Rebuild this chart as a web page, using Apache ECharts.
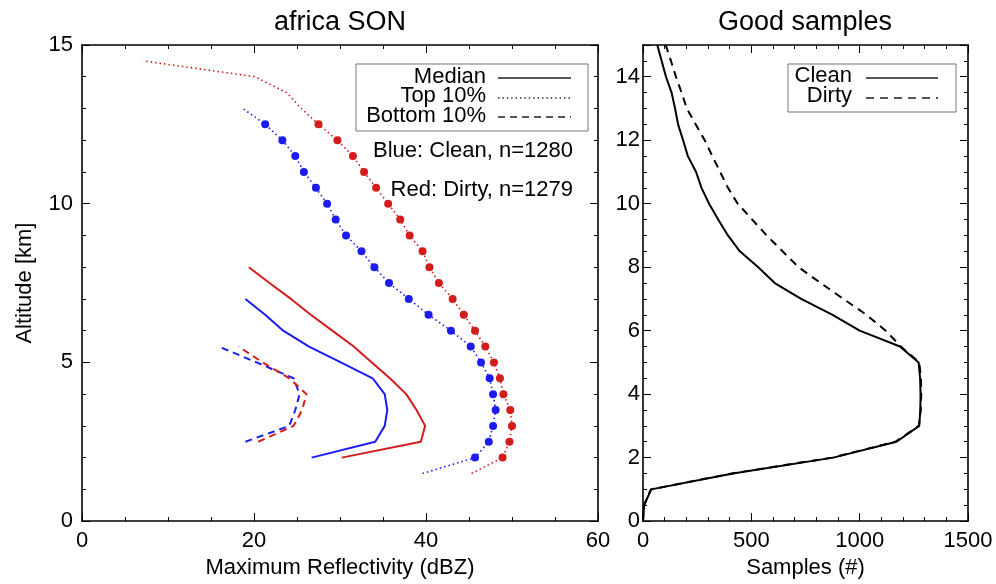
<!DOCTYPE html>
<html><head><meta charset="utf-8">
<script src="https://cdn.jsdelivr.net/npm/echarts@6/dist/echarts.min.js"></script>
<style>html,body{margin:0;padding:0;background:#fff}#c{width:996px;height:584px}</style>
</head><body><div id="c"></div>
<script>
// ---- Left panel: Maximum reflectivity (dBZ) by altitude (km) ----
const altLeft = [1.5,2.0,2.5,3.0,3.5,4.0,4.5,5.0,5.5,6.0,6.5,7.0,7.5,8.0,8.5,9.0,9.5,10.0,10.5,11.0,11.5,12.0,12.5,13.0,13.5,14.0,14.5];
const topDirty    = [45.3,48.9,49.7,50.0,49.8,49.0,48.6,47.9,46.9,45.7,44.4,43.1,41.5,40.4,39.6,38.1,37.0,35.6,34.2,32.8,31.5,29.7,27.5,25.5,23.8,20.1,7.1];
const topClean    = [39.6,45.7,47.3,47.8,48.1,47.8,47.4,46.4,45.2,42.9,40.3,38.0,35.7,34.0,32.5,30.7,29.5,28.5,27.2,25.8,24.8,23.3,21.3,18.7,null,null,null];
const medianDirty = [null,30.2,39.4,39.9,38.9,37.7,35.8,33.7,31.6,29.1,26.6,24.3,21.8,19.4,null,null,null,null,null,null,null,null,null,null,null,null,null];
const medianClean = [null,26.7,34.1,35.2,35.5,35.2,33.8,30.1,26.4,23.4,21.3,19.0,null,null,null,null,null,null,null,null,null,null,null,null,null,null,null];
const bottomDirty = [null,null,20.5,24.6,25.6,26.1,24.1,21.0,18.2,null,null,null,null,null,null,null,null,null,null,null,null,null,null,null,null,null,null];
const bottomClean = [null,null,19.0,24.1,24.8,25.3,24.6,20.3,15.9,null,null,null,null,null,null,null,null,null,null,null,null,null,null,null,null,null,null];
const markerAltRange = [2.0, 12.5];

// ---- Right panel: good samples by altitude ----
const altRight = [0,0.5,1,1.5,2,2.5,3,3.5,4,4.5,5,5.5,6,6.5,7,7.5,8,8.5,9,9.5,10,10.5,11,11.5,12,12.5,13,13.5,14,14.5,15];
const samplesClean = [0,5,38,415,878,1170,1275,1280,1281,1279,1272,1186,1000,875,730,608,532,447,392,347,305,270,245,207,185,162,148,132,106,86,66];
const samplesDirty = [0,5,36,410,872,1165,1273,1282,1284,1283,1275,1190,1120,1031,925,820,718,644,571,504,437,392,356,320,285,243,202,178,152,129,105];

// ---- Text ----
const leftTitle = 'africa SON', rightTitle = 'Good samples';
const leftXName = 'Maximum Reflectivity (dBZ)', rightXName = 'Samples (#)', yName = 'Altitude [km]';
const styleLegend = ['Median', 'Top 10%', 'Bottom 10%'];
const noteLines = ['Blue: Clean, n=1280', 'Red: Dirty, n=1279'];
const rightLegend = ['Clean', 'Dirty'];

const FONT = 'Liberation Sans, Arial, Helvetica, sans-serif';
const RED = '#d41c1c', BLUE = '#1c1cf0';

function pairs(xs, ys) {
  const out = [];
  for (let i = 0; i < xs.length; i++) if (xs[i] != null) out.push([xs[i], ys[i]]);
  return out;
}
function markerPairs(xs, ys) {
  return pairs(xs, ys).filter(p => p[1] >= markerAltRange[0] && p[1] <= markerAltRange[1]);
}

const G = [{left: 82, top: 45, width: 516, height: 480}, {left: 643, top: 45, width: 325, height: 479}];
const plainNum = v => String(v);

function xAx(grid, pos, min, max, interval, minorSplit, name, showLabel) {
  return {
    type: 'value', gridIndex: grid, position: pos, min, max, interval,
    name: showLabel ? name : '', nameLocation: 'middle', nameGap: 33,
    nameTextStyle: {fontFamily: FONT, fontSize: 22, color: '#000'},
    axisLine: {show: true, onZero: false, lineStyle: {color: '#000', width: 1.6}},
    axisTick: {show: true, inside: true, length: 8, lineStyle: {color: '#000', width: 1}},
    minorTick: {show: true, splitNumber: minorSplit, length: 4, lineStyle: {color: '#000', width: 1}},
    splitLine: {show: false},
    axisLabel: {show: showLabel, fontFamily: FONT, fontSize: 22, color: '#000', margin: 9, formatter: plainNum}
  };
}
function yAx(grid, pos, interval, minorSplit, name, showLabel, margin, showMax) {
  return {
    type: 'value', gridIndex: grid, position: pos, min: 0, max: 15, interval,
    name: (showLabel && name) ? name : '', nameLocation: 'middle', nameGap: 46, nameRotate: 90,
    nameTextStyle: {fontFamily: FONT, fontSize: 22, color: '#000'},
    axisLine: {show: true, onZero: false, lineStyle: {color: '#000', width: 1.6}},
    axisTick: {show: true, inside: true, length: 8, lineStyle: {color: '#000', width: 1}},
    minorTick: {show: true, splitNumber: minorSplit, length: 4, lineStyle: {color: '#000', width: 1}},
    splitLine: {show: false},
    axisLabel: {show: showLabel, fontFamily: FONT, fontSize: 22, color: '#000', margin, showMaxLabel: showMax, formatter: plainNum}
  };
}

function lineSeries(data, color, type, width, xi, yi) {
  return {type: 'line', xAxisIndex: xi, yAxisIndex: yi, data, showSymbol: false, symbol: 'none',
    lineStyle: {color, width, type, cap: 'butt'}, silent: true, animation: false, z: 3};
}
function markerSeries(data, color) {
  return {type: 'scatter', xAxisIndex: 0, yAxisIndex: 0, data, symbol: 'circle', symbolSize: 8,
    itemStyle: {color, opacity: 1}, silent: true, animation: false, z: 4};
}

const DOT = [1.5, 3], DASH_L = [7, 5], DASH_R = [8, 6];

const series = [
  lineSeries(pairs(topClean, altLeft), BLUE, DOT, 1.6, 0, 0),
  markerSeries(markerPairs(topClean, altLeft), BLUE),
  lineSeries(pairs(topDirty, altLeft), RED, DOT, 1.6, 0, 0),
  markerSeries(markerPairs(topDirty, altLeft), RED),
  lineSeries(pairs(medianClean, altLeft), BLUE, 'solid', 2, 0, 0),
  lineSeries(pairs(medianDirty, altLeft), RED, 'solid', 2, 0, 0),
  lineSeries(pairs(bottomClean, altLeft), BLUE, DASH_L, 2, 0, 0),
  lineSeries(pairs(bottomDirty, altLeft), RED, DASH_L, 2, 0, 0),
  lineSeries(pairs(samplesClean, altRight), '#000', 'solid', 2, 1, 2),
  lineSeries(pairs(samplesDirty, altRight), '#000', DASH_R, 2, 1, 2)
];

const txt = (x, y, text, align, size) => ({type: 'text', x, y, silent: true,
  style: {text, fontFamily: FONT, fontSize: size || 22, fill: '#000', textAlign: align, textVerticalAlign: 'middle'}});
const seg = (x1, x2, y, dash, w) => {
  const st = {stroke: '#222', lineWidth: w || 1.6};
  if (dash) st.lineDash = dash;
  return {type: 'line', silent: true, shape: {x1, y1: y, x2, y2: y}, style: st};
};

const graphic = [
  txt(340, 23, leftTitle, 'center', 27),
  txt(805, 23, rightTitle, 'center', 27),
  {type: 'rect', silent: true, shape: {x: 356, y: 64, width: 232, height: 67}, style: {fill: '#fff', stroke: '#777', lineWidth: 1}},
  txt(486, 77, styleLegend[0], 'right'),
  txt(486, 96, styleLegend[1], 'right'),
  txt(486, 116, styleLegend[2], 'right'),
  seg(498, 571, 78),
  seg(498, 571, 98, [1.4, 3], 1.4),
  seg(498, 571, 117, [7, 5]),
  txt(573, 151, noteLines[0], 'right'),
  txt(573, 190, noteLines[1], 'right'),
  {type: 'rect', silent: true, shape: {x: 788, y: 64, width: 168, height: 48}, style: {fill: '#fff', stroke: '#777', lineWidth: 1}},
  txt(852, 76, rightLegend[0], 'right'),
  txt(852, 96, rightLegend[1], 'right'),
  seg(866, 938, 78),
  seg(866, 938, 98, [8, 6])
];

const chart = echarts.init(document.getElementById('c'), null, {renderer: 'canvas'});
chart.setOption({
  backgroundColor: '#fff',
  animation: false,
  grid: G,
  xAxis: [
    xAx(0, 'bottom', 0, 60, 20, 4, leftXName, true),
    xAx(1, 'bottom', 0, 1500, 500, 5, rightXName, true),
    xAx(0, 'top', 0, 60, 20, 4, '', false),
    xAx(1, 'top', 0, 1500, 500, 5, '', false)
  ],
  yAxis: [
    yAx(0, 'left', 5, 5, yName, true, 9, true),
    yAx(0, 'right', 5, 5, '', false, 9, true),
    yAx(1, 'left', 2, 4, '', true, 3, false),
    yAx(1, 'right', 2, 4, '', false, 3, false)
  ],
  series,
  graphic
});
</script></body></html>
